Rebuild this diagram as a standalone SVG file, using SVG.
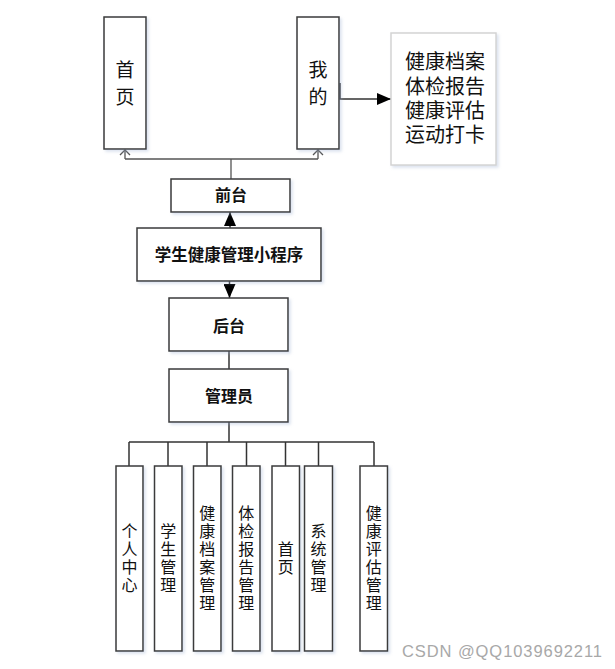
<svg xmlns="http://www.w3.org/2000/svg" width="615" height="669" viewBox="0 0 615 669">
<defs>
<style>
.box{fill:#fff;stroke:#3a3a3a;stroke-width:1.5}
.light{fill:#fff;stroke:#d4d4d4;stroke-width:1.5}
.t{font-family:"Noto Sans CJK SC","Noto Sans",sans-serif;fill:#111;text-anchor:middle}
.b{font-weight:bold}
.v{writing-mode:vertical-rl;letter-spacing:2px;font-size:16px}
.c{fill:none;stroke:#333;stroke-width:1.5}
.g{fill:none;stroke:#555;stroke-width:1.3}
</style>
<marker id="fa" markerUnits="userSpaceOnUse" viewBox="0 0 14 12" refX="14" refY="6" markerWidth="14" markerHeight="12" orient="auto">
<path d="M0,0 L14,6 L0,12 z" fill="#000"/>
</marker>
<filter id="sh" x="-10%" y="-10%" width="130%" height="130%">
<feDropShadow dx="2" dy="2" stdDeviation="1.5" flood-color="#9aaed0" flood-opacity="0.35"/>
</filter>
</defs>
<rect width="615" height="669" fill="#fff"/>

<g id="connectors">
<path class="g" d="M231,179 V159 M125,159 H318 M125,159 V150 M318,159 V150"/>
<path class="g" d="M120,155 L125,150 L130,155 M313,155 L318,150 L323,155"/>
<path class="c" d="M340,83 V99 H391" marker-end="url(#fa)" stroke="#000" stroke-width="2"/>
<path class="c" d="M230,228 V212" marker-end="url(#fa)" stroke="#000"/>
<path class="c" d="M229.5,281 V298" marker-end="url(#fa)" stroke="#000"/>
<path class="c" d="M229,351 V369"/>
<path class="c" d="M229,422 V442 M129,442 H374 M129,442 V466 M168,442 V466 M207,442 V466 M246.5,442 V466 M285.5,442 V466 M318.5,442 V466 M374,442 V466"/>
</g>

<g id="shouye-top"><rect class="box" x="104" y="17" width="42" height="132" filter="url(#sh)"/>
<text class="t" font-size="19"><tspan x="125" y="77">首</tspan><tspan x="125" y="104">页</tspan></text></g>
<g id="wode"><rect class="box" x="297" y="17" width="42" height="132" filter="url(#sh)"/>
<text class="t" font-size="19"><tspan x="318" y="77">我</tspan><tspan x="318" y="104">的</tspan></text></g>
<g id="features"><rect class="light" x="391" y="33" width="105" height="132" filter="url(#sh)"/>
<text class="t" font-size="20"><tspan x="445" y="69">健康档案</tspan><tspan x="445" y="94">体检报告</tspan><tspan x="445" y="118">健康评估</tspan><tspan x="445" y="142">运动打卡</tspan></text></g>

<g id="qiantai"><rect class="box" x="171" y="179" width="119" height="33" filter="url(#sh)"/>
<text class="t b" font-size="16" x="231" y="201">前台</text></g>
<g id="app"><rect class="box" x="137" y="228" width="184" height="53" filter="url(#sh)"/>
<text class="t b" font-size="16.5" x="229" y="261">学生健康管理小程序</text></g>
<g id="houtai"><rect class="box" x="169" y="298" width="119" height="53" filter="url(#sh)"/>
<text class="t b" font-size="16" x="229" y="332">后台</text></g>
<g id="admin"><rect class="box" x="169" y="369" width="119" height="53" filter="url(#sh)"/>
<text class="t b" font-size="16" x="229" y="402">管理员</text></g>

<g id="m1"><rect class="box" x="116" y="466" width="27" height="185" filter="url(#sh)"/>
<text class="t v" x="129.5" y="559">个人中心</text></g>
<g id="m2"><rect class="box" x="154.5" y="466" width="27.5" height="185" filter="url(#sh)"/>
<text class="t v" x="168.2" y="559">学生管理</text></g>
<g id="m3"><rect class="box" x="193.5" y="466" width="27.5" height="185" filter="url(#sh)"/>
<text class="t v" x="207.2" y="559">健康档案管理</text></g>
<g id="m4"><rect class="box" x="232.5" y="466" width="27.5" height="185" filter="url(#sh)"/>
<text class="t v" x="246.2" y="559">体检报告管理</text></g>
<g id="m5"><rect class="box" x="272" y="466" width="27.5" height="185" filter="url(#sh)"/>
<text class="t v" x="285.7" y="559">首页</text></g>
<g id="m6"><rect class="box" x="304.5" y="466" width="28" height="185" filter="url(#sh)"/>
<text class="t v" x="318.5" y="559">系统管理</text></g>
<g id="m7"><rect class="box" x="360" y="466" width="27.5" height="185" filter="url(#sh)"/>
<text class="t v" x="373.8" y="559">健康评估管理</text></g>

<text x="402" y="657" font-family="Liberation Sans, sans-serif" font-size="16.5" fill="#a8a8a8" textLength="200">CSDN @QQ1039692211</text>
</svg>
